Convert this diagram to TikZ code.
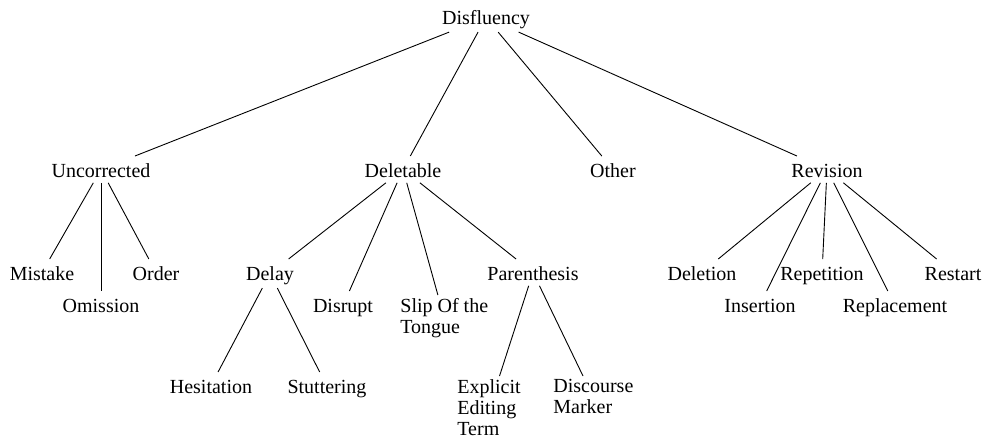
\documentclass[tikz,border=0pt]{standalone}
\usepackage{fontspec}
\setmainfont{Liberation Serif}
\usepackage{tikz}
\usetikzlibrary{positioning}

\tikzset{
  cat/.style={anchor=north, inner sep=1.5pt, font=\fontsize{10}{10.5}\selectfont,
    align=left, execute at begin node={\rule[-1pt]{0pt}{10pt}}},
  branch/.style={draw=black, line width=0.45pt}
}

\begin{document}
\begin{tikzpicture}[x=0.5pt, y=-0.5pt]
  \useasboundingbox (0,0) rectangle (984,441);

  % Root
  \node[cat] (dis) at (486,3) {Disfluency};

  % Main categories
  \node[cat] (unc) at (101,156) {Uncorrected};
  \node[cat] (del) at (403,156) {Deletable};
  \node[cat] (oth) at (613,156) {Other};
  \node[cat] (rev) at (827,156) {Revision};

  % Uncorrected
  \node[cat] (mis) at (42,259) {Mistake};
  \node[cat] (omi) at (101,291) {Omission};
  \node[cat] (ord) at (156,259) {Order};

  % Deletable
  \node[cat] (dly) at (270,259) {Delay};
  \node[cat] (dsr) at (343,291) {Disrupt};
  \node[cat, anchor=north west] (slp) at (397,295) {Slip Of the\\Tongue};
  \node[cat] (par) at (533,259) {Parenthesis};
  \node[cat] (hes) at (211,372) {Hesitation};
  \node[cat] (stu) at (327,372) {Stuttering};
  \node[cat, anchor=north west] (exp) at (454,376) {Explicit\\Editing\\Term};
  \node[cat, anchor=north west] (dsc) at (550,376) {Discourse\\Marker};

  % Revision
  \node[cat] (dln) at (702,259) {Deletion};
  \node[cat] (ins) at (760,291) {Insertion};
  \node[cat] (rep) at (822,259) {Repetition};
  \node[cat] (rpl) at (895,291) {Replacement};
  \node[cat] (rst) at (953,259) {Restart};

  % Edges
  \foreach \c in {unc, del, oth, rev} \draw[branch] (dis) -- (\c);
  \foreach \c in {mis, omi, ord} \draw[branch] (unc) -- (\c);
  \foreach \c in {dly, dsr, slp, par} \draw[branch] (del) -- (\c);
  \foreach \c in {hes, stu} \draw[branch] (dly) -- (\c);
  \foreach \c in {exp, dsc} \draw[branch] (par) -- (\c);
  \foreach \c in {dln, ins, rep, rpl, rst} \draw[branch] (rev) -- (\c);
\end{tikzpicture}
\end{document}
